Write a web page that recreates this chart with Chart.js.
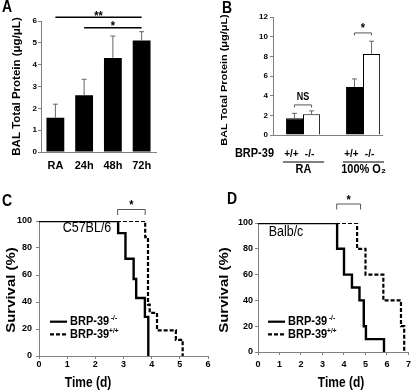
<!DOCTYPE html>
<html>
<head>
<meta charset="utf-8">
<script src="https://cdn.jsdelivr.net/npm/chart.js@4.4.1/dist/chart.umd.min.js"></script>
<style>
  html, body { margin: 0; padding: 0; background: #fff; }
  #fig { position: relative; width: 415px; height: 391px; overflow: hidden; background: #fff; }
  #fig canvas { position: absolute; }
</style>
</head>
<body>
<div id="fig">
  <canvas id="chartA" width="205" height="190" style="left:0;top:0;width:205px;height:190px"></canvas>
  <canvas id="chartB" width="210" height="190" style="left:205px;top:0;width:210px;height:190px"></canvas>
  <canvas id="chartC" width="220" height="201" style="left:0;top:190px;width:220px;height:201px"></canvas>
  <canvas id="chartD" width="210" height="201" style="left:205px;top:190px;width:210px;height:201px"></canvas>
</div>
<script>
// ---- data ----
// A: BAL protein over time in hyperoxia
const timeCategories = ['RA', '24h', '48h', '72h'];
const timeProtein = [1.57, 2.6, 4.31, 5.11];
const timeProteinErr = [0.62, 0.73, 1.0, 0.4];
const timeSignif = [[0, 3, '**', 6.17], [1, 3, '*', 5.69]];
const proteinTicksA = { max: 6, step: 1 };

// B: BAL protein by genotype
const exposureGroups = ['RA', '100% O\u2082'];
const genotypes = ['+/+', '-/-'];
const wildTypeProtein = [1.7, 4.87];
const wildTypeErr = [0.5, 0.83];
const knockoutProtein = [2.1, 8.24];
const knockoutErr = [0.35, 1.3];
const genotypeSignif = [['NS', 3.06], ['*', 10.38]];
const proteinTicksB = { max: 12, step: 2 };

// C: C57BL/6 survival (Kaplan-Meier steps)
const c57KoTime = [0, 2.81, 3.07, 3.36, 3.45, 3.76, 3.88];
const c57KoSurv = [100, 91, 72, 57, 43, 29, 0];
const c57WtTime = [0, 3.77, 3.87, 3.93, 4.19, 4.86, 5.1];
const c57WtSurv = [100, 88, 38, 32, 19, 12, 0];
const c57Bracket = [2.79, 3.77];
const c57Days = 6;

// D: Balb/c survival
const balbKoTime = [0, 3.68, 4.0, 4.37, 4.72, 4.92, 5.02, 5.86];
const balbKoSurv = [100, 80, 60, 50, 40, 20, 10, 0];
const balbWtTime = [0, 4.61, 5.0, 5.83, 6.65, 6.8];
const balbWtSurv = [100, 80, 60, 40, 20, 0];
const balbBracket = [3.66, 4.77];
const balbDays = 7;

const seriesNames = ['BRP-39', 'BRP-39'];
const seriesSup = [' -/-', '+/+'];

// ---- shared helpers ----
Chart.defaults.font.family = 'Liberation Sans, Arial, Helvetica, sans-serif';
Chart.defaults.color = '#000';
Chart.defaults.animation = false;

const AXIS_GREY = '#808080';
const SY = 1.15; // the original figure is slightly stretched vertically

function drawText(ctx, text, x, y, font, align, rotate) {
    ctx.save();
    ctx.translate(x, y);
    ctx.scale(1, SY);
    if (rotate) ctx.rotate(-Math.PI / 2);
    ctx.font = font + ' Liberation Sans, Arial, sans-serif';
    ctx.fillStyle = '#000';
    ctx.textAlign = align || 'center';
    ctx.textBaseline = 'middle';
    ctx.fillText(text, 0, 0);
    const w = ctx.measureText(text).width;
    ctx.restore();
    return w;
}

function drawLine(ctx, pts, color, width, dash) {
    ctx.save();
    ctx.strokeStyle = color;
    ctx.lineWidth = width;
    ctx.setLineDash(dash || []);
    ctx.beginPath();
    pts.forEach((p, i) => i ? ctx.lineTo(p[0], p[1]) : ctx.moveTo(p[0], p[1]));
    ctx.stroke();
    ctx.restore();
}

function drawErrorBars(chart) {
    const ctx = chart.ctx;
    const yScale = chart.scales.y;
    chart.data.datasets.forEach((ds, i) => {
        chart.getDatasetMeta(i).data.forEach((bar, j) => {
            const top = yScale.getPixelForValue(ds.data[j] + ds.errors[j]);
            drawLine(ctx, [[bar.x, bar.y], [bar.x, top]], '#666', 1);
            drawLine(ctx, [[bar.x - 2.5, top], [bar.x + 2.5, top]], '#666', 1);
        });
    });
}

function yAxis(ticksDef, width, size, pad) {
    return {
        min: 0,
        max: ticksDef.max,
        ticks: { stepSize: ticksDef.step, padding: pad, font: { size: size, weight: 'bold' } },
        grid: { drawOnChartArea: false, drawTicks: true, tickLength: 3, color: AXIS_GREY },
        border: { display: true, color: AXIS_GREY, width: 1 },
        afterFit: axis => { axis.width = width; }
    };
}

// ---- A ----
const panelAExtras = {
    id: 'panelAExtras',
    afterDatasetsDraw(chart) {
        const ctx = chart.ctx;
        const bars = chart.getDatasetMeta(0).data;
        drawErrorBars(chart);
        timeSignif.forEach(([from, to, mark, level]) => {
            const y = chart.scales.y.getPixelForValue(level);
            drawLine(ctx, [[bars[from].x, y], [bars[to].x, y]], '#000', 1.5);
            drawText(ctx, mark, (bars[from].x + bars[to].x) / 2, y - 1.2, 'bold 11px');
        });
        drawText(ctx, 'A', 2, 8, 'bold 14px', 'left');
        drawText(ctx, 'BAL Total Protein (\u03bcg/\u03bcL)', 17, 86.5, 'bold 10px', 'center', true);
    }
};

new Chart(document.getElementById('chartA'), {
    type: 'bar',
    data: {
        labels: timeCategories,
        datasets: [{
            data: timeProtein,
            errors: timeProteinErr,
            backgroundColor: '#000',
            borderWidth: 0,
            barPercentage: 0.62,
            categoryPercentage: 1
        }]
    },
    options: {
        responsive: false,
        layout: { padding: { top: 21, right: 49, bottom: 0, left: 0 } },
        plugins: { legend: { display: false }, tooltip: { enabled: false } },
        scales: {
            x: {
                ticks: { padding: 7, font: { size: 11, weight: 'bold' } },
                grid: { display: false, drawTicks: false },
                border: { display: true, color: AXIS_GREY },
                afterFit: axis => { axis.height = 38; }
            },
            y: yAxis(proteinTicksA, 41, 8, 1)
        }
    },
    plugins: [panelAExtras]
});

// ---- B ----
const panelBExtras = {
    id: 'panelBExtras',
    afterDatasetsDraw(chart) {
        const ctx = chart.ctx;
        const area = chart.chartArea;
        const wt = chart.getDatasetMeta(0).data;
        const ko = chart.getDatasetMeta(1).data;
        drawErrorBars(chart);
        // x axis line ends just past the last bar
        const last = ko[ko.length - 1];
        drawLine(ctx, [[area.left, area.bottom + 0.5], [last.x + last.width / 2 + 3, area.bottom + 0.5]], AXIS_GREY, 1);
        // brackets
        genotypeSignif.forEach(([mark, level], g) => {
            const y = chart.scales.y.getPixelForValue(level);
            const x1 = wt[g].x, x2 = ko[g].x;
            drawLine(ctx, [[x1, y + 2.5], [x1, y], [x2, y], [x2, y + 2.5]], '#555', 1);
            if (mark === 'NS') drawText(ctx, mark, (x1 + x2) / 2, y - 8, 'bold 9px');
            else drawText(ctx, mark, (x1 + x2) / 2, y - 4.5, 'bold 11px');
        });
        // genotype rows and group labels
        drawText(ctx, 'BRP-39', area.left + 1, 154, 'bold 11px', 'right');
        exposureGroups.forEach((name, g) => {
            drawText(ctx, genotypes[0], wt[g].x - 3, 154, 'bold 10px');
            drawText(ctx, genotypes[1], ko[g].x - 2, 154, 'bold 10px');
            const l = wt[g].x - wt[g].width / 2 - 3, r = ko[g].x + ko[g].width / 2 + 4;
            drawLine(ctx, [[l, 162], [r, 162]], '#000', 1);
            drawText(ctx, name, (l + r) / 2, 169.5, 'bold 11px');
        });
        drawText(ctx, 'B', 17, 9, 'bold 14px', 'left');
        drawText(ctx, 'BAL Total Protein (\u03bcg/\u03bcL)', 19, 80, 'bold 9.5px', 'center', true);
    }
};

new Chart(document.getElementById('chartB'), {
    type: 'bar',
    data: {
        labels: exposureGroups,
        datasets: [{
            data: wildTypeProtein,
            errors: wildTypeErr,
            backgroundColor: '#000',
            borderColor: '#000',
            borderWidth: 1
        }, {
            data: knockoutProtein,
            errors: knockoutErr,
            backgroundColor: '#fff',
            borderColor: '#000',
            borderWidth: 1
        }]
    },
    options: {
        responsive: false,
        layout: { padding: { top: 17, right: 22, bottom: 0, left: 0 } },
        datasets: { bar: { barPercentage: 1, categoryPercentage: 0.57 } },
        plugins: { legend: { display: false }, tooltip: { enabled: false } },
        scales: {
            x: {
                ticks: { display: false },
                grid: { display: false, drawTicks: false },
                border: { display: false },
                afterFit: axis => { axis.height = 55; }
            },
            y: yAxis(proteinTicksB, 68, 8, 2)
        }
    },
    plugins: [panelBExtras]
});

// ---- C and D: survival ----
function stepPoints(times, surv) {
    return times.map((t, i) => ({ x: t, y: surv[i] }));
}

function survivalExtras(id, opts) {
    return {
        id: id,
        afterDatasetsDraw(chart) {
            const ctx = chart.ctx;
            const xs = chart.scales.x;
            const x1 = xs.getPixelForValue(opts.bracket[0]);
            const x2 = xs.getPixelForValue(opts.bracket[1]);
            drawLine(ctx, [[x1, opts.bracketY + 5.5], [x1, opts.bracketY], [x2, opts.bracketY], [x2, opts.bracketY + 5.5]], '#555', 1);
            drawText(ctx, '*', (x1 + x2) / 2, opts.bracketY - 3.5, 'bold 11px');
            drawText(ctx, opts.letter, opts.letterPos[0], opts.letterPos[1], 'bold 14px', 'left');
            drawText(ctx, 'Survival (%)', opts.yTitle[0], 100, 'bold 13px', 'center', true);
            drawText(ctx, 'Time (d)', opts.xTitle, 193.5, 'bold 12px');
            drawText(ctx, opts.strain, opts.strainPos[0], opts.strainPos[1], '12.5px');
            // legend
            chart.data.datasets.forEach((ds, i) => {
                const y = 131.7 + i * 12.6;
                drawLine(ctx, [[opts.legendX, y], [opts.legendX + 17, y]], '#000', 2.2, ds.borderDash);
                const w = drawText(ctx, seriesNames[i], opts.legendX + 20, y, 'bold 11px', 'left');
                drawText(ctx, seriesSup[i], opts.legendX + 20 + w, y - 3.5, 'bold 6.5px', 'left');
            });
        }
    };
}

function survivalChart(canvasId, ko, wt, days, layout, extras) {
    new Chart(document.getElementById(canvasId), {
        type: 'line',
        data: {
            datasets: [{
                data: ko,
                borderColor: '#000',
                borderWidth: 2.4,
                stepped: true,
                pointRadius: 0
            }, {
                data: wt,
                borderColor: '#000',
                borderWidth: 2.2,
                borderDash: [4, 2],
                stepped: true,
                pointRadius: 0
            }]
        },
        options: {
            responsive: false,
            layout: { padding: layout.padding },
            plugins: { legend: { display: false }, tooltip: { enabled: false } },
            scales: {
                x: {
                    type: 'linear',
                    min: 0,
                    max: days,
                    ticks: { stepSize: 1, padding: layout.xPad, font: { size: 9, weight: 'bold' } },
                    grid: { drawOnChartArea: false, drawTicks: true, tickLength: 3, color: AXIS_GREY },
                    border: { display: true, color: AXIS_GREY },
                    afterFit: axis => { axis.height = layout.xHeight; }
                },
                y: yAxis({ max: 100, step: 20 }, layout.yWidth, 9, layout.yPad)
            }
        },
        plugins: [extras]
    });
}

survivalChart('chartC',
    stepPoints(c57KoTime, c57KoSurv), stepPoints(c57WtTime, c57WtSurv), c57Days,
    { padding: { top: 31, right: 12, bottom: 0, left: 0 }, xHeight: 35, yWidth: 39, xPad: 0, yPad: 4 },
    survivalExtras('panelCExtras', {
        bracket: c57Bracket, bracketY: 19.5, letter: 'C', letterPos: [2, 12],
        yTitle: [11], xTitle: 88, strain: 'C57BL/6', strainPos: [87, 38], legendX: 50
    }));

survivalChart('chartD',
    stepPoints(balbKoTime, balbKoSurv), stepPoints(balbWtTime, balbWtSurv), balbDays,
    { padding: { top: 33, right: 4, bottom: 0, left: 0 }, xHeight: 39, yWidth: 53, xPad: 4, yPad: 2 },
    survivalExtras('panelDExtras', {
        bracket: balbBracket, bracketY: 14, letter: 'D', letterPos: [22, 10],
        yTitle: [19], xTitle: 136, strain: 'Balb/c', strainPos: [81, 42], legendX: 63
    }));
</script>
</body>
</html>
